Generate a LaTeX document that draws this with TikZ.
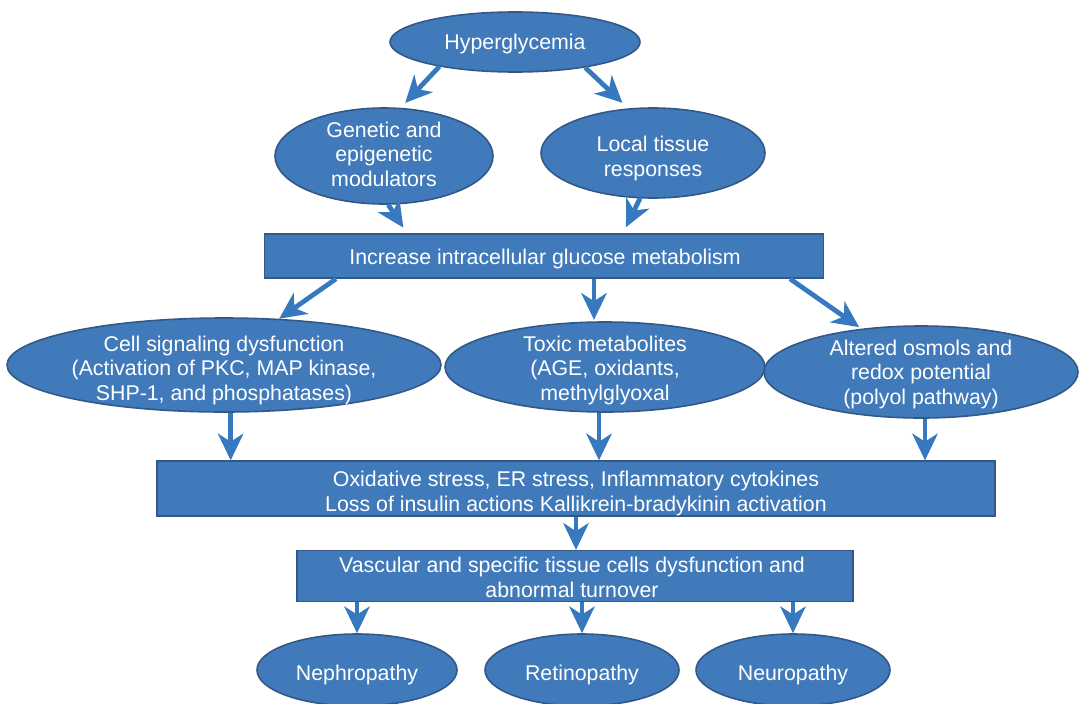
\documentclass[tikz,border=0pt]{standalone}
\usepackage{fontspec}
\setmainfont{Liberation Sans}
\usetikzlibrary{shapes.geometric,arrows.meta}
\definecolor{boxfill}{RGB}{64,122,187}
\definecolor{boxline}{RGB}{50,88,135}
\definecolor{arrowc}{RGB}{55,121,190}
\newcommand\fsz{\fontsize{16}{18.5}\selectfont}
\begin{document}
\begin{tikzpicture}[x=0.75pt,y=-0.75pt,
  ell/.style={ellipse, draw=boxline, line width=1.2pt, fill=boxfill, inner sep=0pt},
  rbox/.style={rectangle, draw=boxline, line width=1.2pt, fill=boxfill, inner sep=0pt},
  txt/.style={text=white, align=center, font=\fsz, inner sep=0pt, yshift=-2.5pt},
  arr/.style={draw=arrowc, line width=3.6pt, -{Stealth[length=20pt,width=19pt,inset=6pt]}}]
\useasboundingbox (0,0) rectangle (1080,703);

% nodes
\node[ell, minimum width=187.5pt, minimum height=45pt] (hyper) at (515,42) {};
\node[txt] (hypert) at (515,41) {Hyperglycemia};
\node[ell, minimum width=163.5pt, minimum height=72pt] (genetic) at (384,156) {};
\node[txt] (genetict) at (384,151) {Genetic and\\epigenetic\\modulators};
\node[ell, minimum width=168pt, minimum height=67.5pt] (local) at (653,153) {};
\node[txt] (localt) at (653,155) {Local tissue\\responses};
\node[rbox, minimum width=419pt, minimum height=33pt] (inc) at (544,256) {};
\node[txt] (inct) at (545,256) {Increase intracellular glucose metabolism};
\node[ell, minimum width=325.5pt, minimum height=70.5pt] (cell) at (224,365) {};
\node[txt] (cellt) at (224,367) {Cell signaling dysfunction\\(Activation of PKC, MAP kinase,\\SHP-1, and phosphatases)};
\node[ell, minimum width=240pt, minimum height=67.5pt] (toxic) at (605,367) {};
\node[txt] (toxict) at (605,367) {Toxic metabolites\\(AGE, oxidants,\\methylglyoxal};
\node[ell, minimum width=235.5pt, minimum height=69pt] (altered) at (921,372) {};
\node[txt] (alteredt) at (921,371) {Altered osmols and\\redox potential\\(polyol pathway)};
\node[rbox, minimum width=628.5pt, minimum height=41pt] (ox) at (576,488.5) {};
\node[txt] (oxt) at (576,490) {Oxidative stress, ER stress, Inflammatory cytokines\\Loss of insulin actions Kallikrein-bradykinin activation};
\node[rbox, minimum width=417pt, minimum height=38pt] (vasc) at (575,576) {};
\node[txt] (vasct) at (572,574) {Vascular and specific tissue cells dysfunction and\\abnormal turnover};
\node[ell, minimum width=150pt, minimum height=54pt] (neph) at (357,670) {};
\node[txt] (nepht) at (357,672) {Nephropathy};
\node[ell, minimum width=145.5pt, minimum height=54pt] (retin) at (582,670) {};
\node[txt] (retint) at (582,672) {Retinopathy};
\node[ell, minimum width=145.5pt, minimum height=54pt] (neuro) at (793,670) {};
\node[txt] (neurot) at (793,672) {Neuropathy};

% connector end points on the wide box
\coordinate (incGen) at ([xshift=-102.75pt]inc.north);
\coordinate (incLoc) at ([xshift=59.25pt]inc.north);
\coordinate (incCell) at ([xshift=-156pt]inc.south);
\coordinate (incTox) at ([xshift=37.5pt]inc.south);
\coordinate (incAlt) at ([xshift=184.5pt]inc.south);
\coordinate (c1) at ([xshift=5pt]cell.south);
\coordinate (c2) at ([xshift=-4.5pt]toxic.south);
\coordinate (c3) at ([xshift=3pt]altered.south);

% connectors
\draw[arr, shorten >=5pt] (hyper.198) -- (genetic.71);
\draw[arr, shorten >=6pt] (hyper.340) -- (local.119);
\draw[arr, shorten >=5pt] (genetic.275) -- (incGen);
\draw[arr, shorten >=5pt] (local.254.5) -- (incLoc);
\draw[arr] (incCell) -- (cell.40.3);
\draw[arr, shorten >=1pt] (incTox) -- (incTox |- toxic.north);
\draw[arr, shorten >=2pt] (incAlt) -- (altered.144.3);
\draw[arr] (c1) -- (c1 |- ox.north);
\draw[arr] (c2) -- (c2 |- ox.north);
\draw[arr] (c3) -- (c3 |- ox.north);
\draw[arr] (ox.south) -- (ox.south |- vasc.north);
\draw[arr] (neph.north |- vasc.south) -- (neph.north);
\draw[arr] (retin.north |- vasc.south) -- (retin.north);
\draw[arr] (neuro.north |- vasc.south) -- (neuro.north);
\end{tikzpicture}
\end{document}
